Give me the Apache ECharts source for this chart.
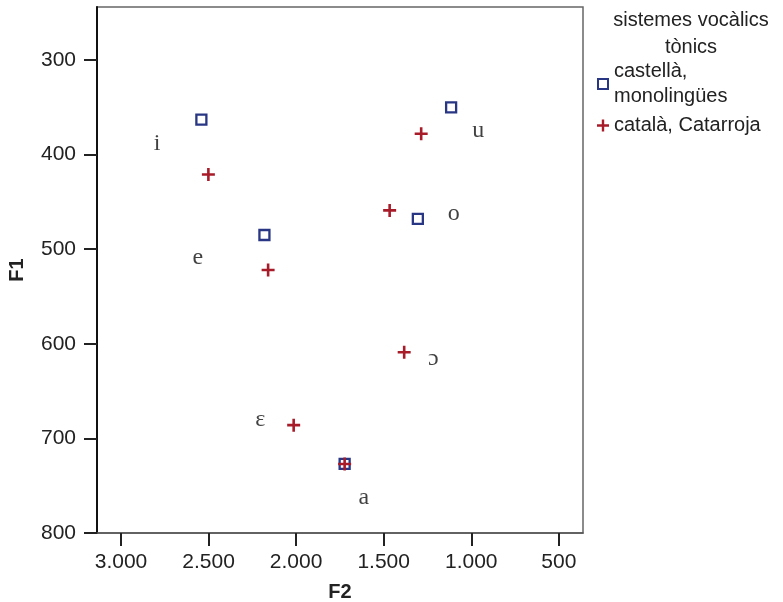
<!DOCTYPE html>
<html>
<head>
<meta charset="utf-8">
<script src="https://cdn.jsdelivr.net/npm/echarts@6/dist/echarts.min.js"></script>
<style>
html,body{margin:0;padding:0;background:#fff;}
#chart{width:783px;height:602px;}
</style>
</head>
<body>
<div id="chart"></div>
<script>
// ---- data ----
const castellaVowels = ['i', 'e', 'a', 'o', 'u'];
const castellaF2 = [2541, 2181, 1723, 1305, 1115];
const castellaF1 = [363, 485, 727, 468, 350];

const catalaVowels = ['i', 'e', 'ɛ', 'a', 'ɔ', 'o', 'u'];
const catalaF2 = [2501, 2160, 2014, 1723, 1383, 1466, 1286];
const catalaF1 = [421, 522, 686, 727, 609, 459, 378];

const labelVowels = ['i', 'e', 'ɛ', 'a', 'ɔ', 'o', 'u'];
const labelF2 = [2794, 2562, 2204, 1614, 1217, 1100, 960];
const labelF1 = [388, 509, 680, 763, 616, 463, 375];

const xTicks = [3000, 2500, 2000, 1500, 1000, 500];
const yTicks = [300, 400, 500, 600, 700, 800];

const seriesNames = ['castellà, monolingües', 'català, Catarroja'];
const legendTitle = 'sistemes vocàlics\ntònics';

// ---- chart ----
const BLUE = '#283684';
const RED = '#a81c2a';
const PLUS = 'path://M4,0H6V4H10V6H6V10H4V6H0V4H4Z';
const HOLLOW = 'path://M0,0H12V12H0Z M2,2V10H10V2Z';

function fmt(v) {
  const s = String(Math.round(v));
  return s.replace(/\B(?=(\d{3})+(?!\d))/g, '.');
}

const chart = echarts.init(document.getElementById('chart'), null, {renderer: 'canvas'});
const option = {
  animation: false,
  textStyle: {fontFamily: '"Liberation Sans", Arial, sans-serif'},
  grid: {
    left: 97, right: 200, top: 7, bottom: 69,
    outerBoundsMode: 'none',
    containLabel: false,
    show: true, borderColor: '#666', borderWidth: 1.5, backgroundColor: 'transparent'
  },
  graphic: [{
    type: 'text',
    x: 691,
    y: 7,
    style: {
      text: legendTitle,
      align: 'center',
      verticalAlign: 'top',
      fontSize: 20,
      lineHeight: 27,
      fill: '#222',
      fontFamily: '"Liberation Sans", Arial, sans-serif'
    }
  }],
  legend: {
    orient: 'vertical',
    left: 597,
    top: 59,
    padding: 0,
    itemGap: 4,
    itemWidth: 12,
    itemHeight: 12,
    textStyle: {fontSize: 20, lineHeight: 25, color: '#222'},
    formatter: function (name) {
      return name === seriesNames[0] ? 'castellà,\nmonolingües' : name;
    },
    data: [
      {name: seriesNames[0], icon: HOLLOW, itemStyle: {color: BLUE, borderWidth: 0}},
      {name: seriesNames[1], icon: PLUS, itemStyle: {color: RED, borderWidth: 0}}
    ]
  },
  xAxis: {
    type: 'value',
    inverse: true,
    min: 362, max: 3137,
    name: 'F2',
    nameLocation: 'middle',
    nameGap: 49,
    nameTextStyle: {fontSize: 20, fontWeight: 'bold', color: '#222'},
    axisLine: {show: true, lineStyle: {color: '#555', width: 1.5}},
    axisTick: {show: true, length: 13, customValues: xTicks, lineStyle: {color: '#222', width: 2}},
    axisLabel: {customValues: xTicks, fontSize: 21, color: '#222', margin: 19, formatter: fmt},
    splitLine: {show: false}
  },
  yAxis: {
    type: 'value',
    inverse: true,
    min: 244, max: 800,
    name: 'F1',
    nameLocation: 'middle',
    nameGap: 70,
    nameTextStyle: {fontSize: 20, fontWeight: 'bold', color: '#222'},
    axisLine: {show: true, lineStyle: {color: '#111', width: 2}},
    axisTick: {show: true, length: 13, customValues: yTicks, lineStyle: {color: '#222', width: 2}},
    axisLabel: {customValues: yTicks, fontSize: 21, color: '#222', margin: 21, formatter: fmt},
    splitLine: {show: false}
  },
  series: [
    {
      name: seriesNames[0],
      type: 'scatter',
      symbol: 'rect',
      symbolSize: 10,
      itemStyle: {color: 'rgba(255,255,255,0)', borderColor: BLUE, borderWidth: 2.3, opacity: 1},
      data: castellaF2.map((x, i) => ({name: castellaVowels[i], value: [x, castellaF1[i]]})),
      z: 2
    },
    {
      name: seriesNames[1],
      type: 'scatter',
      symbol: PLUS,
      symbolSize: 13,
      itemStyle: {color: RED, opacity: 1},
      data: catalaF2.map((x, i) => ({name: catalaVowels[i], value: [x, catalaF1[i]]})),
      z: 3
    },
    {
      name: 'labels',
      type: 'scatter',
      symbolSize: 1,
      itemStyle: {color: 'rgba(0,0,0,0)'},
      label: {
        show: true,
        position: 'inside',
        formatter: p => p.name,
        fontFamily: '"Liberation Serif", "DejaVu Serif", "Times New Roman", serif',
        fontSize: 24,
        color: '#111'
      },
      data: labelF2.map((x, i) => ({name: labelVowels[i], value: [x, labelF1[i]]})),
      z: 4
    }
  ]
};
chart.setOption(option);
</script>
</body>
</html>
